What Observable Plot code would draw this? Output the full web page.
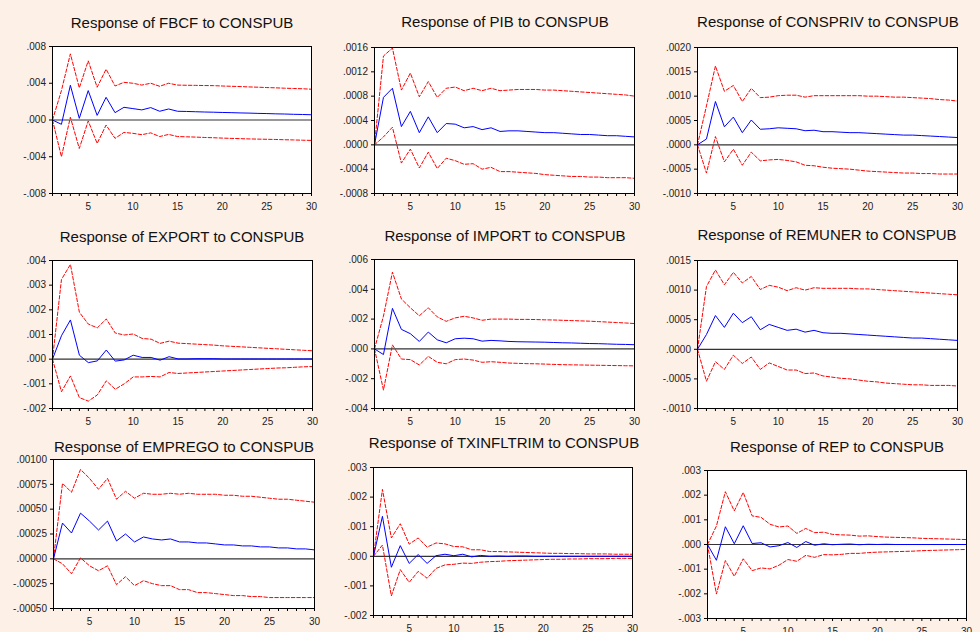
<!DOCTYPE html>
<html><head><meta charset="utf-8">
<script src="https://cdn.jsdelivr.net/npm/d3@7"></script>
<script src="https://cdn.jsdelivr.net/npm/@observablehq/plot@0.6"></script>
<style>
html,body{margin:0;padding:0;background:#FDF0E7;}
#root{position:relative;width:980px;height:632px;overflow:hidden;background:#FDF0E7;font-family:"Liberation Sans",Arial,sans-serif;}
.title{position:absolute;transform:translate(-50%,-50%);font-size:15px;color:#111;white-space:nowrap;}
.panel{position:absolute;}
</style></head><body><div id="root"></div>
<script>
const periods = [1,2,3,4,5,6,7,8,9,10,11,12,13,14,15,16,17,18,19,20,21,22,23,24,25,26,27,28,29,30];

// FBCF
const fbcfMid = [0,-0.00047,0.00378,0.00018,0.0032,0.0005,0.00247,0.0008,0.00138,0.00124,0.0011,0.00135,0.00095,0.0012,0.00095,0.00093,0.0009,0.00087,0.00085,0.00082,0.0008,0.00077,0.00075,0.00072,0.0007,0.00067,0.00065,0.00062,0.0006,0.00057];
const fbcfUp = [0,0.0032,0.0072,0.0035,0.00644,0.00356,0.00553,0.0037,0.0041,0.004,0.0038,0.004,0.00367,0.004,0.0038,0.00378,0.00377,0.00375,0.00374,0.0037,0.00367,0.00364,0.0036,0.00357,0.00353,0.0035,0.00346,0.00343,0.0034,0.00335];
const fbcfLo = [0,-0.004,0.0003,-0.0031,-0.0001,-0.00255,-0.00055,-0.002,-0.00135,-0.00145,-0.0016,-0.0014,-0.0018,-0.00157,-0.0018,-0.00183,-0.00186,-0.0019,-0.00193,-0.00197,-0.002,-0.00203,-0.00206,-0.00208,-0.0021,-0.00212,-0.00215,-0.00217,-0.0022,-0.00222];
// PIB
const pibMid = [0,0.00078,0.00093,0.0003,0.00055,0.0002,0.00046,0.0002,0.00035,0.00034,0.00028,0.0003,0.00025,0.00028,0.00022,0.00023,0.00023,0.00022,0.00021,0.0002,0.0002,0.00019,0.00018,0.00017,0.00017,0.00016,0.00015,0.00015,0.00014,0.00013];
const pibUp = [0,0.00146,0.00159,0.0009,0.00118,0.00079,0.00104,0.00078,0.00093,0.00095,0.00089,0.00093,0.00089,0.00093,0.00089,0.0009,0.00091,0.00091,0.00091,0.0009,0.0009,0.00089,0.00088,0.00087,0.00086,0.00085,0.00084,0.00083,0.00082,0.0008];
const pibLo = [0,0.00013,0.00029,-0.0003,-0.00007,-0.00038,-0.00012,-0.00039,-0.00022,-0.00026,-0.00032,-0.00031,-0.0004,-0.00037,-0.00044,-0.00044,-0.00045,-0.00046,-0.00047,-0.00049,-0.0005,-0.00051,-0.00052,-0.00052,-0.00053,-0.00053,-0.00054,-0.00054,-0.00054,-0.00055];
// CONSPRIV
const conprivMid = [0,0.00012,0.00089,0.00037,0.00057,0.00025,0.00051,0.00032,0.00033,0.00035,0.00034,0.00033,0.00029,0.0003,0.00027,0.00027,0.00026,0.00025,0.00025,0.00024,0.00023,0.00022,0.00021,0.0002,0.0002,0.00019,0.00018,0.00017,0.00016,0.00015];
const conprivUp = [0,0.0008,0.00162,0.0011,0.00122,0.00089,0.00116,0.00097,0.00098,0.00101,0.00102,0.00102,0.00098,0.00101,0.00101,0.00101,0.00101,0.00101,0.00101,0.001,0.001,0.00099,0.00098,0.00098,0.00097,0.00096,0.00095,0.00093,0.00092,0.0009];
const conprivLo = [0,-0.00058,0.00017,-0.00035,-0.00009,-0.00042,-0.00015,-0.00033,-0.00031,-0.0003,-0.00032,-0.00035,-0.00042,-0.00043,-0.00046,-0.00048,-0.00049,-0.0005,-0.00052,-0.00054,-0.00055,-0.00056,-0.00057,-0.00058,-0.00058,-0.00059,-0.00059,-0.0006,-0.0006,-0.0006];
// EXPORT
const exportMid = [0,0.00095,0.00159,0.00016,-0.00014,-0.00007,0.00037,-0.00008,-0.00003,0.00016,0.00007,0.00007,-0.00004,0.0001,0.00001,0.00001,0.00002,0.00002,0.00002,0.00001,0.00001,0.00001,0.00001,0.00001,0.00001,0.00001,0.00001,0.00001,0.00001,0.00001];
const exportUp = [0,0.00323,0.00384,0.0019,0.00142,0.00127,0.00163,0.00106,0.00098,0.00102,0.00084,0.00081,0.00064,0.00073,0.00065,0.00063,0.00061,0.00059,0.00057,0.00054,0.00052,0.0005,0.00048,0.00046,0.00044,0.00042,0.0004,0.00038,0.00036,0.00034];
const exportLo = [0,-0.00132,-0.00068,-0.00156,-0.0017,-0.00145,-0.00088,-0.00122,-0.001,-0.00072,-0.00072,-0.0007,-0.00072,-0.00054,-0.00058,-0.00056,-0.00054,-0.00052,-0.0005,-0.00048,-0.00046,-0.00044,-0.00042,-0.0004,-0.00038,-0.00036,-0.00035,-0.00033,-0.00031,-0.0003];
// IMPORT
const importMid = [0,-0.00038,0.00272,0.00131,0.00102,0.0005,0.00113,0.00061,0.00041,0.00068,0.00072,0.00068,0.00052,0.00057,0.00054,0.0005,0.00048,0.00047,0.00046,0.00045,0.00043,0.00041,0.0004,0.00038,0.00036,0.00035,0.00033,0.00031,0.0003,0.00028];
const importUp = [0,0.0022,0.00515,0.00335,0.00276,0.00222,0.00276,0.00215,0.00185,0.00208,0.00219,0.00208,0.00192,0.002,0.002,0.002,0.00198,0.00198,0.00197,0.00195,0.00194,0.00192,0.0019,0.00188,0.00186,0.00183,0.0018,0.00177,0.00174,0.0017];
const importLo = [0,-0.00276,0.00027,-0.00068,-0.00072,-0.00108,-0.0005,-0.0009,-0.001,-0.00072,-0.00068,-0.00075,-0.0009,-0.00086,-0.0009,-0.00095,-0.00097,-0.00099,-0.001,-0.00102,-0.00104,-0.00106,-0.00107,-0.00108,-0.00109,-0.0011,-0.00111,-0.00112,-0.00113,-0.00114];
// REMUNER
const remunerMid = [0,0.00025,0.00057,0.00037,0.00061,0.00045,0.00055,0.00033,0.00042,0.00037,0.00032,0.00034,0.00029,0.00032,0.00028,0.00027,0.00027,0.00026,0.00025,0.00024,0.00023,0.00022,0.00021,0.0002,0.00019,0.00019,0.00018,0.00017,0.00016,0.00015];
const remunerUp = [0,0.00106,0.00134,0.00109,0.0013,0.00112,0.00123,0.00101,0.00108,0.00105,0.00099,0.00104,0.001,0.00104,0.00103,0.00103,0.00103,0.00103,0.00102,0.00102,0.00101,0.001,0.00099,0.00098,0.00097,0.00096,0.00095,0.00094,0.00093,0.00092];
const remunerLo = [0,-0.00054,-0.00021,-0.00034,-0.0001,-0.00024,-0.00013,-0.00034,-0.00023,-0.00029,-0.00035,-0.00035,-0.00041,-0.0004,-0.00045,-0.00047,-0.00049,-0.0005,-0.00052,-0.00054,-0.00055,-0.00057,-0.00058,-0.00059,-0.0006,-0.0006,-0.00061,-0.00061,-0.00061,-0.00062];
// EMPREGO
const empregoMid = [0,0.00036,0.00026,0.00046,0.00038,0.00029,0.00038,0.00018,0.00025,0.00017,0.00022,0.0002,0.00019,0.0002,0.00017,0.00017,0.00016,0.00016,0.00015,0.00014,0.00014,0.00013,0.00013,0.00012,0.00012,0.00011,0.00011,0.0001,0.0001,0.00009];
const empregoUp = [0,0.00076,0.00067,0.0009,0.00081,0.0007,0.00081,0.0006,0.00068,0.00061,0.00066,0.00065,0.00065,0.00066,0.00065,0.00066,0.00065,0.00065,0.00065,0.00064,0.00064,0.00063,0.00063,0.00062,0.00061,0.0006,0.0006,0.00059,0.00058,0.00057];
const empregoLo = [0,-0.00005,-0.00015,0.00001,-0.00007,-0.00012,-0.00007,-0.00026,-0.00018,-0.00027,-0.00022,-0.00025,-0.00027,-0.00027,-0.00031,-0.00031,-0.00034,-0.00034,-0.00035,-0.00036,-0.00037,-0.00037,-0.00038,-0.00038,-0.00039,-0.00039,-0.00039,-0.00039,-0.00039,-0.00039];
// TXINFLTRIM
const txinflMid = [0,0.00135,-0.00037,0.00036,-0.00024,0.00006,-0.00024,0.00002,0.00007,0.00002,0.00007,-0.00002,0.00003,0,0.00001,0,0.00001,0.00001,0,0,0,0,0,0,0,0,0,0,0,0];
const txinflUp = [0,0.00226,0.00062,0.0011,0.00041,0.00062,0.00031,0.00045,0.00042,0.00033,0.00032,0.00022,0.00022,0.00016,0.00016,0.00015,0.00014,0.00013,0.00012,0.00011,0.0001,0.0001,0.00009,0.00009,0.00008,0.00008,0.00008,0.00007,0.00007,0.00007];
const txinflLo = [0,0.00038,-0.00134,-0.00045,-0.00088,-0.00051,-0.00074,-0.00041,-0.00029,-0.00027,-0.00023,-0.00024,-0.0002,-0.00018,-0.00017,-0.00015,-0.00014,-0.00013,-0.00012,-0.00011,-0.0001,-0.0001,-0.00009,-0.00009,-0.00008,-0.00008,-0.00008,-0.00007,-0.00007,-0.00007];
// REP
const repMid = [0,-0.00064,0.00072,0.00003,0.00076,0.00004,0.00007,-0.0001,-0.00005,0.00008,-0.00012,0.00012,-0.00003,0.00003,-0.00001,0.00001,0.00002,-0.00001,0.00001,0,0.00001,0,0,0,0,0,0,0,0,0];
const repUp = [0,0.00075,0.00214,0.00136,0.00211,0.00116,0.0011,0.00082,0.00071,0.00075,0.00045,0.00065,0.00048,0.0005,0.00041,0.00039,0.00038,0.00034,0.00035,0.00032,0.0003,0.00029,0.00028,0.00027,0.00025,0.00024,0.00023,0.00022,0.00021,0.0002];
const repLo = [0,-0.00201,-0.00065,-0.00129,-0.00058,-0.00106,-0.00095,-0.00099,-0.00084,-0.00061,-0.00068,-0.00044,-0.00052,-0.00041,-0.00042,-0.0004,-0.00036,-0.00036,-0.00033,-0.00031,-0.0003,-0.00029,-0.00028,-0.00027,-0.00025,-0.00024,-0.00023,-0.00022,-0.00021,-0.0002];

// Titles
const titles = ["Response of FBCF to CONSPUB","Response of PIB to CONSPUB","Response of CONSPRIV to CONSPUB",
  "Response of EXPORT to CONSPUB","Response of IMPORT to CONSPUB","Response of REMUNER to CONSPUB",
  "Response of EMPREGO to CONSPUB","Response of TXINFLTRIM to CONSPUB","Response of REP to CONSPUB"];

// Y tick values and labels
const yTicks = [
  [-0.008,-0.004,0,0.004,0.008],
  [-0.0008,-0.0004,0,0.0004,0.0008,0.0012,0.0016],
  [-0.001,-0.0005,0,0.0005,0.001,0.0015,0.002],
  [-0.002,-0.001,0,0.001,0.002,0.003,0.004],
  [-0.004,-0.002,0,0.002,0.004,0.006],
  [-0.001,-0.0005,0,0.0005,0.001,0.0015],
  [-0.0005,-0.00025,0,0.00025,0.0005,0.00075,0.001],
  [-0.002,-0.001,0,0.001,0.002,0.003],
  [-0.003,-0.002,-0.001,0,0.001,0.002,0.003]
];
const yLabels = [
  ["-.008","-.004",".000",".004",".008"],
  ["-.0008","-.0004",".0000",".0004",".0008",".0012",".0016"],
  ["-.0010","-.0005",".0000",".0005",".0010",".0015",".0020"],
  ["-.002","-.001",".000",".001",".002",".003",".004"],
  ["-.004","-.002",".000",".002",".004",".006"],
  ["-.0010","-.0005",".0000",".0005",".0010",".0015"],
  ["-.00050","-.00025",".00000",".00025",".00050",".00075",".00100"],
  ["-.002","-.001",".000",".001",".002",".003"],
  ["-.003","-.002","-.001",".000",".001",".002",".003"]
];
const xLabels = ["5","10","15","20","25","30"];

const mids = [fbcfMid,pibMid,conprivMid,exportMid,importMid,remunerMid,empregoMid,txinflMid,repMid];
const ups = [fbcfUp,pibUp,conprivUp,exportUp,importUp,remunerUp,empregoUp,txinflUp,repUp];
const los = [fbcfLo,pibLo,conprivLo,exportLo,importLo,remunerLo,empregoLo,txinflLo,repLo];

// Layout: plot frame [x0,x1,y0,y1] and title centre [cx,cy]
const layout = [
  {f:[52,311,46,193], t:[182,22]},
  {f:[374,634,47,193], t:[505,21]},
  {f:[697,957,47,193], t:[828,21]},
  {f:[52,312,260,408], t:[182,236]},
  {f:[374,634,259,408], t:[505,235]},
  {f:[697,957,260,408], t:[827,234]},
  {f:[53,314,459,608], t:[184,446]},
  {f:[373,632,467,615], t:[504,442]},
  {f:[707,966,470,618], t:[837,446]}
];

const root = document.getElementById("root");
const ML = 50, MR = 12, MT = 6, MB = 26;

for (let k = 0; k < 9; k++) {
  const L = layout[k];
  const [x0,x1,y0,y1] = L.f;
  const ticks = yTicks[k], labs = yLabels[k];
  const table = periods.map((t,i) => ({t, mid: mids[k][i], up: ups[k][i], lo: los[k][i]}));
  const lab = d => { const i = ticks.findIndex(v => Math.abs(v - d) < 1e-12); return i >= 0 ? labs[i] : ""; };
  const xlab = d => { const s = String(d); return xLabels.includes(s) ? s : ""; };
  const chart = Plot.plot({
    width: (x1 - x0) + ML + MR,
    height: (y1 - y0) + MT + MB,
    marginLeft: ML, marginRight: MR, marginTop: MT, marginBottom: MB,
    style: {background: "transparent", fontFamily: "'Liberation Sans', Arial, sans-serif", fontSize: "10px", color: "#222", overflow: "visible"},
    x: {domain: [1, 30]},
    y: {domain: [ticks[0], ticks[ticks.length - 1]]},
    marks: [
      Plot.frame({fill: "white", stroke: "none"}),
      Plot.ruleY([0], {stroke: "#333", strokeWidth: 1.2}),
      Plot.line(table, {x: "t", y: "up", stroke: "#ff0000", strokeWidth: 1, strokeDasharray: "3.5,2"}),
      Plot.line(table, {x: "t", y: "lo", stroke: "#ff0000", strokeWidth: 1, strokeDasharray: "3.5,2"}),
      Plot.line(table, {x: "t", y: "mid", stroke: "#0000ff", strokeWidth: 1}),
      Plot.frame({stroke: "black", strokeWidth: 1}),
      Plot.axisY({ticks: ticks, tickFormat: lab, tickSize: 3, tickPadding: 3.5, stroke: "black", label: null}),
      Plot.axisX({ticks: periods, tickFormat: xlab, tickSize: 3, tickPadding: 6.5, stroke: "black", label: null})
    ]
  });
  chart.classList.add("panel");
  chart.style.left = (x0 - ML) + "px";
  chart.style.top = (y0 - MT) + "px";
  root.appendChild(chart);

  const t = document.createElement("div");
  t.className = "title";
  t.textContent = titles[k];
  t.style.left = L.t[0] + "px";
  t.style.top = L.t[1] + "px";
  root.appendChild(t);
}
</script>
</body></html>
